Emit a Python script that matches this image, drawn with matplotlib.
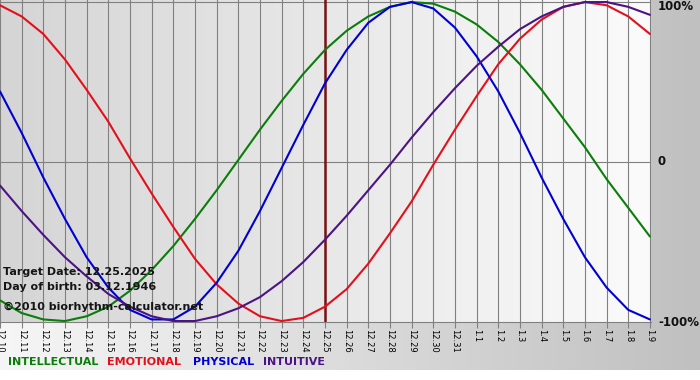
import matplotlib.pyplot as plt
import numpy as np
from matplotlib.colors import LinearSegmentedColormap
from matplotlib.transforms import blended_transform_factory

# days shown on the x axis
days = ['12.10', '12.11', '12.12', '12.13', '12.14', '12.15', '12.16', '12.17',
        '12.18', '12.19', '12.20', '12.21', '12.22', '12.23', '12.24', '12.25',
        '12.26', '12.27', '12.28', '12.29', '12.30', '12.31', '1.1', '1.2',
        '1.3', '1.4', '1.5', '1.6', '1.7', '1.8', '1.9']
target_day = '12.25'

# cycle values in percent, one per day
physical = [44, 18, -10, -36, -60, -79, -93, -99, -99, -91, -76, -56, -31, -4,
            23, 49, 70, 87, 97, 100, 96, 84, 66, 44, 18, -10, -36, -60, -79,
            -93, -99]
emotional = [98, 91, 80, 64, 45, 25, 2, -20, -41, -61, -77, -89, -97, -100,
             -98, -91, -80, -64, -45, -25, -2, 20, 41, 61, 77, 89, 97, 100, 98,
             91, 80]
intellectual = [-87, -95, -99, -100, -97, -91, -81, -68, -53, -36, -18, 1, 20,
                38, 55, 70, 82, 91, 97, 100, 99, 94, 86, 75, 61, 45, 27, 9,
                -11, -29, -47]
intuitive = [-15, -31, -46, -60, -72, -83, -91, -97, -100, -100, -97, -92, -85,
             -75, -63, -49, -34, -18, -2, 15, 31, 46, 60, 72, 83, 91, 97, 100,
             100, 97, 92]

series = [('INTELLECTUAL', intellectual, '#0a7d0a'),
          ('EMOTIONAL', emotional, '#e3101c'),
          ('PHYSICAL', physical, '#0000d2'),
          ('INTUITIVE', intuitive, '#4b1385')]

W, H = 700, 380
fig = plt.figure(figsize=(W / 100, H / 100), dpi=100)
fig.patch.set_facecolor('white')

# grey gradient behind everything except the bottom white strip
bg = fig.add_axes([0, 10 / H, 1, 370 / H], zorder=0)
bg.imshow(np.linspace(0, 1, 256)[None, :], aspect='auto', extent=(0, 1, 0, 1),
          cmap=LinearSegmentedColormap.from_list('bg', ['#f6f6f6', '#c0c0c0']))
bg.set_axis_off()

ax = fig.add_axes([0, 58 / H, 651 / W, 322 / H], zorder=1)
n = len(days)
x = np.arange(n)
ax.set_xlim(0, n - 1 + 0.05)
ax.set_ylim(-100.6, 101.3)
ax.imshow(np.linspace(0, 1, 256)[None, :], aspect='auto',
          extent=(0, n - 1 + 0.05, -100.6, 101.3), zorder=0,
          cmap=LinearSegmentedColormap.from_list('pl', ['#d5d5d5', '#fbfbfb']))

for xi in x:
    ax.axvline(xi, color='#808080', lw=0.8, zorder=1)
for yv in (100, 0):
    ax.axhline(yv, color='#808080', lw=0.8, zorder=1)
ax.axvline(days.index(target_day), color='#7a1010', lw=1.8, zorder=2)

for name, vals, col in series:
    ax.plot(x, vals, color=col, lw=1.5, zorder=3, solid_capstyle='round')

for s in ('top', 'right', 'left'):
    ax.spines[s].set_visible(False)
ax.spines['bottom'].set_color('#808080')
ax.spines['bottom'].set_linewidth(0.8)
ax.set_yticks([])
ax.set_xticks(x)
ax.set_xticklabels(days, rotation=-90, fontsize=6, ha='center', va='top')
ax.tick_params(axis='x', length=4, width=0.8, color='#808080', pad=1)

trans = blended_transform_factory(fig.transFigure, ax.transData)
for val, lab in [(100, '100%'), (0, '0'), (-100, '-100%')]:
    fig.text(658 / W, val - (3 if val == 100 else 0) + (-1 if val == -100 else 0),
             lab, transform=trans, fontsize=8.5, fontweight='bold',
             ha='left', va='center', color='#111111')

info = [('Target Date: 12.25.2025', 272), ('Day of birth: 03.12.1946', 287),
        ('\u00a92010 biorhythm-calculator.net', 307)]
for txt, yp in info:
    fig.text(3 / W, 1 - yp / H, txt, fontsize=8, fontweight='bold',
             ha='left', va='center', color='#151515', zorder=5)

leg_x = [8, 107, 193, 263]
for (name, vals, col), lx in zip(series, leg_x):
    fig.text(lx / W, 1 - 362 / H, name, fontsize=8, fontweight='bold',
             color=col, ha='left', va='center')

fig.savefig('out.png', dpi=100)
